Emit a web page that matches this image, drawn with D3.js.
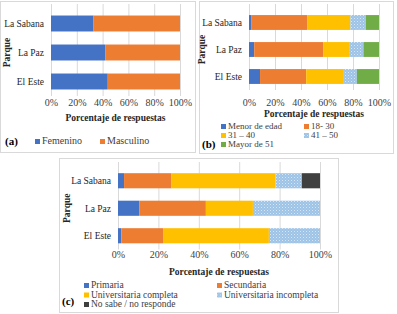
<!DOCTYPE html>
<html>
<head>
<meta charset="utf-8">
<script src="https://cdn.jsdelivr.net/npm/d3@7"></script>
<style>
  body { margin: 0; background: #fff; }
</style>
</head>
<body>
<div id="chart"></div>
<script>
// Data (percent of answers per park)
const parques = ["La Sabana", "La Paz", "El Este"];
const ticks = [0, 20, 40, 60, 80, 100];

// (a) gender
const generoSeries = ["Femenino", "Masculino"];
const femenino = [33, 42, 44];
const masculino = [67, 58, 56];

// (b) age
const edadSeries = ["Menor de edad", "18- 30", "31 – 40", "41 – 50", "Mayor de 51"];
const menorEdad = [2, 4, 8.5];
const edad18a30 = [43, 53, 35.5];
const edad31a40 = [33, 20, 29];
const edad41a50 = [12, 11, 10];
const mayor51 = [10, 12, 17];

// (c) education
const educSeries = ["Primaria", "Secundaria", "Universitaria completa", "Universitaria incompleta", "No sabe / no responde"];
const primaria = [3, 10.5, 1.7];
const secundaria = [23.5, 33, 20.6];
const univCompleta = [51.5, 23.3, 52.4];
const univIncompleta = [13, 33.2, 25.3];
const noSabe = [9, 0, 0];

const width = 397, height = 314;
const FONT = "Times New Roman, Liberation Serif, Tinos, Times, DejaVu Serif, serif";

const svg = d3.select("#chart").append("svg")
    .attr("width", width)
    .attr("height", height)
    .style("font-family", FONT);

// dotted light blue fill
const defs = svg.append("defs");
const pat = defs.append("pattern")
    .attr("id", "dots")
    .attr("width", 3)
    .attr("height", 3)
    .attr("patternUnits", "userSpaceOnUse");
pat.append("rect").attr("width", 3).attr("height", 3).attr("fill", "#9dc3e6");
pat.append("rect").attr("x", 0).attr("y", 0).attr("width", 1).attr("height", 1).attr("fill", "#d6e6f5");
pat.append("rect").attr("x", 1.5).attr("y", 1.5).attr("width", 1).attr("height", 1).attr("fill", "#c2daf0");

function buildRows(series, cols) {
    return parques.map((p, i) => {
        const row = {parque: p};
        series.forEach((s, j) => row[s] = cols[j][i]);
        return row;
    });
}

function drawPanel(cfg) {
    // panel frame
    svg.append("rect")
        .attr("x", cfg.box[0] + 0.5)
        .attr("y", cfg.box[1] + 0.5)
        .attr("width", cfg.box[2])
        .attr("height", cfg.box[3])
        .attr("fill", "none")
        .attr("stroke", "#d9d9d9");

    const x = d3.scaleLinear().domain([0, 100]).range(cfg.xRange);
    const y = d3.scaleBand().domain(parques).range(cfg.yRange)
        .paddingInner(0.45).paddingOuter(0.225);

    const g = svg.append("g");

    // vertical grid lines
    g.selectAll(".grid")
        .data(ticks)
        .enter().append("line")
        .attr("x1", d => x(d) + 0.5)
        .attr("x2", d => x(d) + 0.5)
        .attr("y1", cfg.yRange[0] - 5)
        .attr("y2", cfg.yRange[1])
        .attr("stroke", "#d9d9d9")
        .attr("stroke-width", 1);

    const rows = buildRows(cfg.series, cfg.cols);
    const stack = d3.stack().keys(cfg.series)(rows);

    g.selectAll(".serie")
        .data(stack)
        .enter().append("g")
        .attr("fill", (d, i) => cfg.colors[i])
        .selectAll("rect")
        .data(d => d)
        .enter().append("rect")
        .attr("x", d => x(d[0]))
        .attr("y", d => y(d.data.parque))
        .attr("width", d => x(d[1]) - x(d[0]))
        .attr("height", y.bandwidth());

    // x axis labels
    const axis = g.append("g")
        .attr("transform", `translate(0,${cfg.tickY})`)
        .call(d3.axisBottom(x).tickValues(ticks).tickFormat(d => d + "%").tickSize(0));
    axis.attr("font-family", null).attr("font-size", null);
    axis.select(".domain").remove();
    axis.selectAll("text")
        .attr("dy", 0)
        .style("font-family", FONT)
        .style("font-size", "10px")
        .style("fill", "#404040");

    // category labels
    g.selectAll(".cat")
        .data(parques)
        .enter().append("text")
        .attr("x", cfg.xRange[0] - 7)
        .attr("y", d => y(d) + y.bandwidth() / 2)
        .attr("dy", "0.35em")
        .attr("text-anchor", "end")
        .style("font-family", FONT)
        .style("font-size", "9.5px")
        .style("fill", "#262626")
        .text(d => d);

    // axis titles
    g.append("text")
        .attr("x", (cfg.xRange[0] + cfg.xRange[1]) / 2)
        .attr("y", cfg.titleY)
        .attr("text-anchor", "middle")
        .style("font-family", FONT)
        .style("font-size", "9.5px")
        .style("font-weight", "bold")
        .style("fill", "#262626")
        .text("Porcentaje de respuestas");

    g.append("text")
        .attr("transform", `translate(${cfg.parqueX},${(cfg.yRange[0] + cfg.yRange[1]) / 2}) rotate(-90)`)
        .attr("text-anchor", "middle")
        .style("font-family", FONT)
        .style("font-size", "9.5px")
        .style("font-weight", "bold")
        .style("fill", "#262626")
        .text("Parque");

    // panel letter
    g.append("text")
        .attr("x", cfg.letter[0])
        .attr("y", cfg.letter[1])
        .style("font-family", FONT)
        .style("font-size", "11px")
        .style("font-weight", "bold")
        .style("fill", "#000")
        .text(cfg.letterText);

    // legend
    const leg = g.selectAll(".leg")
        .data(cfg.series)
        .enter().append("g")
        .attr("transform", (d, i) => {
            const col = i % cfg.legCols, row = Math.floor(i / cfg.legCols);
            return `translate(${cfg.legX[col]},${cfg.legY + row * cfg.legStep})`;
        });
    leg.append("rect")
        .attr("x", 0)
        .attr("y", -5)
        .attr("width", 5)
        .attr("height", 5)
        .attr("fill", (d, i) => cfg.colors[i]);
    leg.append("text")
        .attr("x", 7)
        .attr("y", 0)
        .style("font-family", FONT)
        .style("font-size", cfg.legFont)
        .style("fill", "#404040")
        .text(d => d);
}

drawPanel({
    box: [0, 1, 195, 151],
    xRange: [51, 180],
    yRange: [9, 96],
    tickY: 103,
    titleY: 121,
    parqueX: 10,
    series: generoSeries,
    cols: [femenino, masculino],
    colors: ["#4472c4", "#ed7d31"],
    letter: [5, 145],
    letterText: "(a)",
    legCols: 2,
    legX: [35, 100],
    legY: 144,
    legStep: 9,
    legFont: "10px"
});

drawPanel({
    box: [199, 1, 194, 152],
    xRange: [249, 379],
    yRange: [9, 90],
    tickY: 103,
    titleY: 117,
    parqueX: 205,
    series: edadSeries,
    cols: [menorEdad, edad18a30, edad31a40, edad41a50, mayor51],
    colors: ["#4472c4", "#ed7d31", "#ffc000", "url(#dots)", "#70ad47"],
    letter: [202, 148],
    letterText: "(b)",
    legCols: 2,
    legX: [221, 304],
    legY: 129,
    legStep: 9,
    legFont: "9px"
});

drawPanel({
    box: [59, 158, 279, 154],
    xRange: [118, 320],
    yRange: [167, 249.5],
    tickY: 255,
    titleY: 275,
    parqueX: 70,
    series: educSeries,
    cols: [primaria, secundaria, univCompleta, univIncompleta, noSabe],
    colors: ["#4472c4", "#ed7d31", "#ffc000", "url(#dots)", "#404040"],
    letter: [62, 305],
    letterText: "(c)",
    legCols: 2,
    legX: [84, 217],
    legY: 288,
    legStep: 9.5,
    legFont: "9.5px"
});
</script>
</body>
</html>
